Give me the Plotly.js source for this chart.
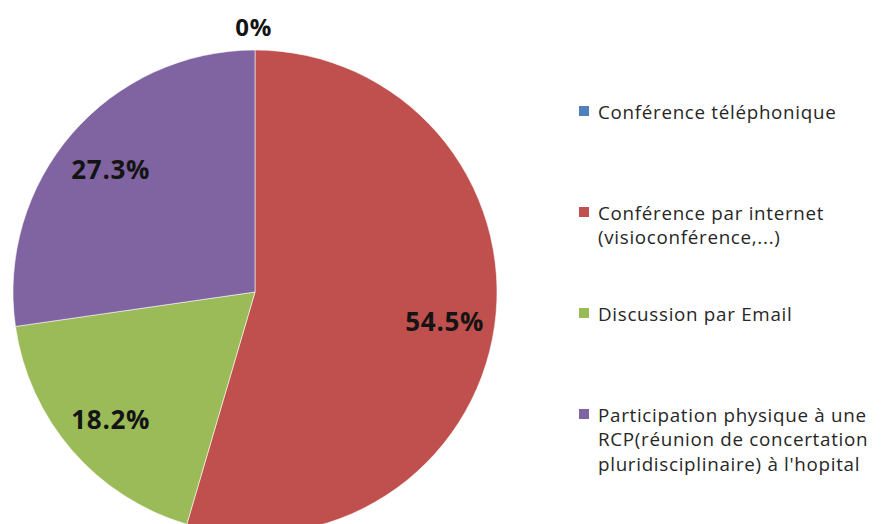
<!DOCTYPE html>
<html>
<head>
<meta charset="utf-8">
<script src="https://cdn.plot.ly/plotly-3.0.1.min.js"></script>
<style>
html, body { margin: 0; padding: 0; overflow: hidden; background: #ffffff; }
#chart { width: 896px; height: 560px; }
#chart .annotation-text { letter-spacing: 0.7px; }
</style>
</head>
<body>
<div id="chart"></div>
<script>
// ---- data ----
const categories = [
  "Conférence téléphonique",
  "Conférence par internet<br>(visioconférence,...)",
  "Discussion par Email",
  "Participation physique à une<br>RCP(réunion de concertation<br>pluridisciplinaire) à l'hopital"
];
const values = [0, 6, 2, 3];
const percentLabels = ["0%", "54.5%", "18.2%", "27.3%"];
const colors = ["#4F81BD", "#C0504D", "#9BBB59", "#8064A2"];

// ---- layout constants ----
const W = 896, H = 560;
const cx = 255, cy = 292, R = 242;
const px = x => x / W;
const py = y => 1 - y / H;

const trace = {
  type: "pie",
  labels: categories,
  values: values,
  sort: false,
  direction: "clockwise",
  rotation: 0,
  textinfo: "none",
  hoverinfo: "label+percent",
  marker: { colors: colors, line: { color: "rgba(255,255,255,0.55)", width: 1 } },
  domain: { x: [px(cx - R), px(cx + R)], y: [py(cy + R), py(cy - R)] },
  showlegend: false
};

const total = values.reduce((a, b) => a + b, 0);
const annotations = [];
const shapes = [];
let cum = 0;
values.forEach((v, i) => {
  const a = (cum + v / 2) / total * 2 * Math.PI;
  cum += v;
  const r = v === 0 ? R + 24 : 0.79 * R;
  annotations.push({
    xref: "paper", yref: "paper",
    x: px(cx + r * Math.sin(a) - (v === 0 ? 2 : 0)), y: py(cy - r * Math.cos(a) + (v === 0 ? 0 : 2)),
    xanchor: "center", yanchor: "middle",
    text: percentLabels[i], showarrow: false, borderpad: 0,
    font: { family: "Open Sans, sans-serif", size: v === 0 ? 24 : 26, color: "#141414", weight: 700 }
  });
});

// manual legend
const legX = 579, legTxtX = 597, legY0 = 110, legStep = 101, sq = 10, fs = 18.8;
categories.forEach((c, i) => {
  const yc = legY0 + i * legStep;
  shapes.push({
    type: "rect", xref: "paper", yref: "paper",
    x0: px(legX), x1: px(legX + sq), y0: py(yc - sq / 2 + 1), y1: py(yc + sq / 2 + 1),
    fillcolor: colors[i], line: { width: 0 }
  });
  annotations.push({
    xref: "paper", yref: "paper",
    x: px(legTxtX), y: py(yc - fs * 0.65),
    xanchor: "left", yanchor: "top", align: "left",
    text: c, showarrow: false, borderpad: 0,
    font: { family: "Open Sans, sans-serif", size: fs, color: "#262626" }
  });
});

const layout = {
  width: W, height: H,
  margin: { l: 0, r: 0, t: 0, b: 0 },
  paper_bgcolor: "#ffffff",
  showlegend: false,
  annotations: annotations,
  shapes: shapes
};

Plotly.newPlot("chart", [trace], layout, { displayModeBar: false, staticPlot: true });
</script>
</body>
</html>
